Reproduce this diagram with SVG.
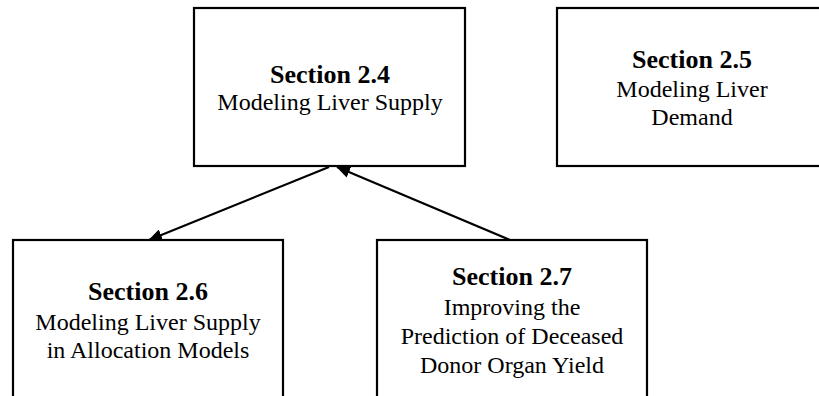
<svg xmlns="http://www.w3.org/2000/svg" width="819" height="396" viewBox="0 0 819 396">
<style>
.box{fill:#fff;stroke:#000;stroke-width:2.2}
.t{font-family:"Liberation Serif","Times New Roman",serif;text-anchor:middle;fill:#000}
.h{font-size:26px;font-weight:bold}
.b{font-size:24px}
.c{stroke:#000;stroke-width:2.2;fill:none}
</style>
<defs>
<marker id="ah" markerUnits="userSpaceOnUse" markerWidth="14" markerHeight="12" refX="13" refY="6" orient="auto">
<path d="M0,0 L14,6 L0,12 z" fill="#000"/>
</marker>
</defs>
<g id="s24">
<rect class="box" x="194" y="8" width="271" height="158"/>
<text class="t h" x="330" y="83">Section 2.4</text>
<text class="t b" x="330" y="110">Modeling Liver Supply</text>
</g>
<g id="s25">
<rect class="box" x="557" y="8" width="280" height="158"/>
<text class="t h" x="692" y="68">Section 2.5</text>
<text class="t b" x="692" y="97">Modeling Liver</text>
<text class="t b" x="692" y="125">Demand</text>
</g>
<g id="s26">
<rect class="box" x="13" y="240" width="270" height="180"/>
<text class="t h" x="148" y="300">Section 2.6</text>
<text class="t b" x="148" y="330">Modeling Liver Supply</text>
<text class="t b" x="148" y="358">in Allocation Models</text>
</g>
<g id="s27">
<rect class="box" x="377" y="240" width="270" height="180"/>
<text class="t h" x="512" y="285">Section 2.7</text>
<text class="t b" x="512" y="315">Improving the</text>
<text class="t b" x="512" y="344">Prediction of Deceased</text>
<text class="t b" x="512" y="373">Donor Organ Yield</text>
</g>
<g id="connectors">
<line class="c" x1="329" y1="167" x2="149" y2="240" marker-end="url(#ah)"/>
<line class="c" x1="510" y1="240" x2="337" y2="167" marker-end="url(#ah)"/>
</g>
</svg>
